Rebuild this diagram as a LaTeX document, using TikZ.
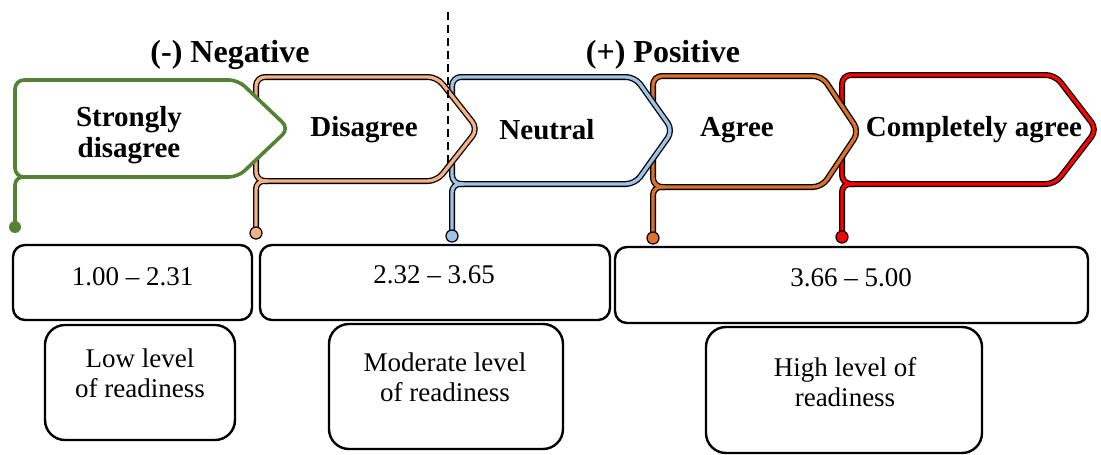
\documentclass[tikz,border=0pt]{standalone}
\usepackage{fontspec}
\setmainfont{Liberation Serif}
\usepackage{tikz}

\definecolor{sdgreen}{HTML}{548235}
\definecolor{disorange}{HTML}{F4B183}
\definecolor{neublue}{HTML}{9DC3E6}
\definecolor{agrorange}{HTML}{DC7229}
\definecolor{cagred}{HTML}{FF0000}

\begin{document}
\begin{tikzpicture}[x=1pt, y=-1pt,
  chevtext/.style={font=\fontsize{29}{31}\selectfont\bfseries, align=center},
  headtext/.style={font=\fontsize{32}{34}\selectfont\bfseries},
  bodytext/.style={font=\fontsize{27}{30}\selectfont, align=center},
  rangebox/.style={draw, line width=2.4pt, rounded corners=12pt, inner sep=0pt},
  levelbox/.style={draw, line width=2.4pt, rounded corners=20pt, inner sep=0pt}]

\useasboundingbox (0,0) rectangle (1101,455);

% Chevrons, right to left so that each tip lies over the next one
\foreach \L/\T/\B/\S/\P/\D/\col in {842/75/184/1055/1097/237/cagred,
    653/76/187/822/859/238/agrorange, 452/77/184/635/673/236/neublue,
    256/77/181/437/478/233/disorange}{
  \pgfmathsetmacro\M{(\T+\B)/2}
  \filldraw[fill=white, draw=black, line width=6pt, rounded corners=9pt]
    (\L,\M) -- (\L,\T) -- (\S,\T) -- (\P,\M) -- (\S,\B) -- (\L,\B) -- cycle;
  \draw[black, line width=6pt, rounded corners=8pt] (\L+12,\B) -- (\L,\B) -- (\L,\D);
  \draw[\col, line width=3.4pt, rounded corners=9pt]
    (\L,\M) -- (\L,\T) -- (\S,\T) -- (\P,\M) -- (\S,\B) -- (\L,\B) -- cycle;
  \draw[\col, line width=3.4pt, rounded corners=8pt] (\L+12,\B) -- (\L,\B) -- (\L,\D);
  \filldraw[fill=\col, draw=black, line width=1.2pt] (\L,\D) circle (6pt);
}

% Strongly disagree
\filldraw[fill=white, draw=sdgreen, line width=3.6pt, rounded corners=9pt]
  (15,128.5) -- (15,80) -- (238,80) -- (289,128.5) -- (238,177) -- (15,177) -- cycle;
\draw[sdgreen, line width=3.6pt, rounded corners=8pt] (27,177) -- (15,177) -- (15,227);
\fill[sdgreen] (15,227) circle (6pt);

\node[chevtext] (sd) at (129,135) {Strongly\\disagree};
\node[chevtext] (dis) at (364,130) {Disagree};
\node[chevtext] (neu) at (547,130) {Neutral};
\node[chevtext] (agr) at (737,130) {Agree};
\node[chevtext] (cag) at (974,130) {Completely agree};

% Headings and divider
\node[headtext] (neg) at (230,55) {(-) Negative};
\node[headtext] (pos) at (663,55) {(+) Positive};
\coordinate (divtop) at (448,12);
\coordinate (divbot) at (448,166);
\draw[line width=2.2pt, dash pattern=on 8pt off 5pt] (divtop) -- (divbot);

% Score ranges
\node[rangebox, minimum width=239pt, minimum height=75pt] (r1) at (132.5,282.5) {};
\node[rangebox, minimum width=350pt, minimum height=75pt] (r2) at (435,282.5) {};
\node[rangebox, minimum width=473pt, minimum height=76pt] (r3) at (851.5,285) {};
\node[bodytext] (r1t) at (132.5,277) {1.00 -- 2.31};
\node[bodytext] (r2t) at (434,275) {2.32 -- 3.65};
\node[bodytext] (r3t) at (851,278) {3.66 -- 5.00};

% Readiness levels
\node[levelbox, minimum width=190pt, minimum height=115pt] (l1) at (140,382.5) {};
\node[levelbox, minimum width=234pt, minimum height=125pt] (l2) at (446,386.5) {};
\node[levelbox, minimum width=276pt, minimum height=126pt] (l3) at (844,390) {};
\node[bodytext] (l1t) at (140,373) {Low level\\of readiness};
\node[bodytext] (l2t) at (445,377) {Moderate level\\of readiness};
\node[bodytext] (l3t) at (845,382) {High level of\\readiness};

\end{tikzpicture}
\end{document}
